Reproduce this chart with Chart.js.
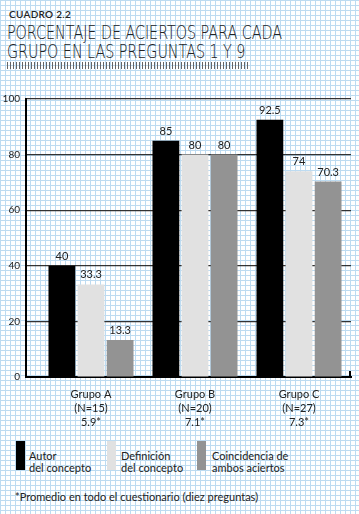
<!DOCTYPE html>
<html>
<head>
<meta charset="utf-8">
<script src="https://cdn.jsdelivr.net/npm/chart.js@4/dist/chart.umd.min.js"></script>
<style>
  html, body { margin: 0; padding: 0; }
  body {
    width: 359px; height: 514px; position: relative; overflow: hidden;
    background-color: #fff;
    background-image:
      linear-gradient(to right, #bddbf1 1px, transparent 1px),
      linear-gradient(to bottom, #bddbf1 1px, transparent 1px);
    background-size: 5px 5px;
    font-family: Lato, "Open Sans", sans-serif;
    color: #222;
  }
  .abs { position: absolute; white-space: nowrap; }
  #cuadro { left: 9px; top: 8px; font-size: 10px; font-weight: 600; letter-spacing: 0.3px; }
  .title { left: 7px; font-family: "DejaVu Sans"; font-weight: 200; font-size: 20px; line-height: 20px;
           transform-origin: left top; transform: scaleX(0.72); letter-spacing: -0.1px; }
  #t1 { top: 22px; }
  #t2 { top: 41px; }
  #hatch { left: 7px; top: 62px; width: 242px; height: 7px;
           background: repeating-linear-gradient(to right, #666 0 1px, transparent 1px 3px); }
  #wrap { position: absolute; left: 0; top: 80px; width: 359px; height: 360px; }
  .box { position: absolute; top: 441px; width: 9px; height: 29px; }
  .leg { position: absolute; top: 450px; font-size: 11px; line-height: 11.5px; }
  #foot { left: 15px; top: 490px; font-size: 11px; }
</style>
</head>
<body>
<div id="cuadro" class="abs">CUADRO 2.2</div>
<div id="t1" class="abs title">PORCENTAJE DE ACIERTOS PARA CADA</div>
<div id="t2" class="abs title">GRUPO EN LAS PREGUNTAS 1 Y 9</div>
<div id="hatch" class="abs"></div>

<div id="wrap"><canvas id="chart"></canvas></div>

<div class="box" style="left:16px;background:#000"></div>
<div class="leg" style="left:29px">Autor<br>del concepto</div>
<div class="box" style="left:107px;background:#e1e1e1"></div>
<div class="leg" style="left:121px">Definición<br>del concepto</div>
<div class="box" style="left:197px;background:#939393"></div>
<div class="leg" style="left:212px">Coincidencia de<br>ambos aciertos</div>

<div id="foot" class="abs">*Promedio en todo el cuestionario (diez preguntas)</div>

<script>
// Data
var groups = ['Grupo A', 'Grupo B', 'Grupo C'];
var groupN = ['(N=15)', '(N=20)', '(N=27)'];
var groupAvg = ['5.9*', '7.1*', '7.3*'];
var autor = [40, 85, 92.5];
var definicion = [33.3, 80, 74];
var ambos = [13.3, 80, 70.3];
var yTicks = [0, 20, 40, 60, 80, 100];

var labelFont = 'Lato, "Open Sans", sans-serif';

function points(values) {
  return values.map(function(v, i) { return { x: i, y: v }; });
}

// Value labels above bars
var valueLabels = {
  id: 'valueLabels',
  afterDatasetsDraw: function(chart) {
    var ctx = chart.ctx;
    ctx.save();
    ctx.font = '11px ' + labelFont;
    ctx.fillStyle = '#222';
    ctx.textAlign = 'center';
    ctx.textBaseline = 'alphabetic';
    chart.data.datasets.forEach(function(ds, di) {
      chart.getDatasetMeta(di).data.forEach(function(el, i) {
        ctx.fillText(String(ds.data[i].y), el.x, el.y - 6);
      });
    });
    ctx.restore();
  }
};

// Small corner mark at bottom right
var cornerMark = {
  id: 'cornerMark',
  afterDraw: function(chart) {
    var a = chart.chartArea, ctx = chart.ctx;
    ctx.save();
    ctx.strokeStyle = '#000';
    ctx.lineWidth = 2;
    ctx.beginPath();
    ctx.moveTo(a.right - 1, a.bottom - 6);
    ctx.lineTo(a.right - 1, a.bottom + 1);
    ctx.stroke();
    ctx.restore();
  }
};

new Chart(document.getElementById('chart'), {
  type: 'bar',
  data: {
    datasets: [
      { label: 'Autor del concepto', data: points(autor), backgroundColor: '#000' },
      { label: 'Definición del concepto', data: points(definicion), backgroundColor: '#e1e1e1' },
      { label: 'Coincidencia de ambos aciertos', data: points(ambos), backgroundColor: '#939393' }
    ]
  },
  options: {
    responsive: true,
    maintainAspectRatio: false,
    animation: false,
    datasets: { bar: { categoryPercentage: 0.84, barPercentage: 0.92 } },
    layout: { padding: { top: 19, right: 8, left: 0, bottom: 0 } },
    plugins: { legend: { display: false }, tooltip: { enabled: false } },
    scales: {
      x: {
        type: 'linear',
        offset: false,
        min: -0.625,
        max: 2.5,
        afterBuildTicks: function(axis) {
          axis.ticks = groups.map(function(g, i) { return { value: i }; });
        },
        afterFit: function(axis) { axis.height = 63; },
        grid: { display: false, drawTicks: false, offset: false },
        border: { display: true, color: '#000', width: 2 },
        ticks: {
          padding: 11,
          color: '#222',
          font: { family: labelFont, size: 11, lineHeight: 1.25 },
          maxRotation: 0,
          callback: function(v) { return [groups[v], groupN[v], groupAvg[v]]; }
        }
      },
      y: {
        min: 0,
        max: 100,
        afterBuildTicks: function(axis) {
          axis.ticks = yTicks.map(function(v) { return { value: v }; });
        },
        afterFit: function(axis) { axis.width = 26; },
        grid: { color: '#333', lineWidth: 1.2, drawTicks: false },
        border: { display: true, color: '#000', width: 2 },
        ticks: {
          padding: 6,
          color: '#222',
          font: { family: labelFont, size: 10 }
        }
      }
    }
  },
  plugins: [valueLabels, cornerMark]
});
</script>
</body>
</html>
